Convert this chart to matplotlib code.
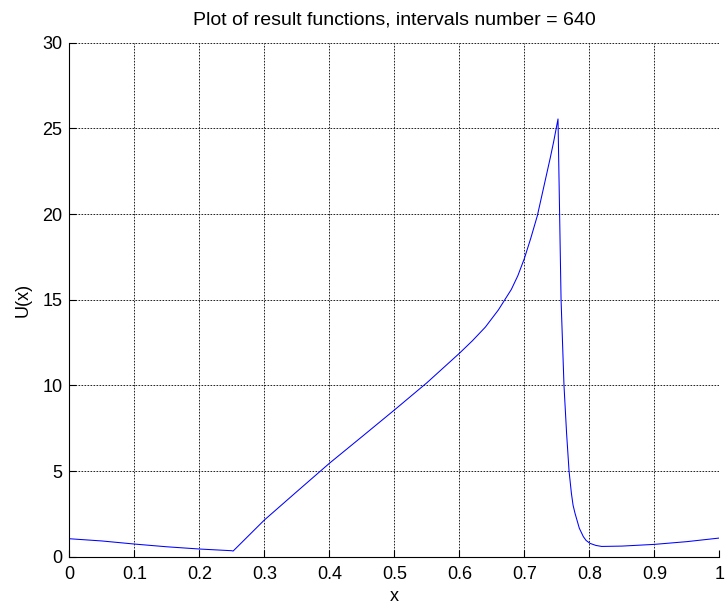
import matplotlib
matplotlib.use("Agg")
import matplotlib.pyplot as plt

# solution U(x) sampled along the interval
x_vals = [0.0, 0.05, 0.1, 0.15, 0.2, 0.25, 0.252, 0.3, 0.35, 0.4, 0.45,
          0.5, 0.55, 0.6, 0.62, 0.64, 0.66, 0.68, 0.69, 0.7, 0.71, 0.72, 0.73,
          0.74, 0.745, 0.7518, 0.7565, 0.761, 0.765, 0.7688, 0.7724, 0.775,
          0.778, 0.7846, 0.7908, 0.795, 0.801, 0.81, 0.819, 0.85, 0.9, 0.95, 1.0]
u_vals = [1.05, 0.92, 0.74, 0.58, 0.45, 0.35, 0.33, 2.14, 3.8, 5.45, 7.0,
          8.56, 10.15, 11.87, 12.6, 13.4, 14.4, 15.6, 16.4, 17.4, 18.6, 19.9, 21.6,
          23.3, 24.2, 25.55, 15.0, 10.0, 7.2, 5.0, 3.7, 3.0,
          2.53, 1.66, 1.17, 0.95, 0.78, 0.66, 0.6, 0.62, 0.72, 0.88, 1.09]

x_ticks = [0, 0.1, 0.2, 0.3, 0.4, 0.5, 0.6, 0.7, 0.8, 0.9, 1]
x_tick_labels = ["0", "0.1", "0.2", "0.3", "0.4", "0.5", "0.6", "0.7", "0.8", "0.9", "1"]
y_ticks = [0, 5, 10, 15, 20, 25, 30]

plt.rcParams["font.family"] = ["Liberation Sans", "DejaVu Sans"]

fig = plt.figure(figsize=(7.25, 6.05), dpi=100)
ax = fig.add_axes([0.0956, 0.0798, 0.8966, 0.8496])

ax.plot(x_vals, u_vals, color=(0, 0, 1), linewidth=0.75)

ax.set_xlim(0, 1)
ax.set_ylim(0, 30)
ax.set_xticks(x_ticks)
ax.set_xticklabels(x_tick_labels)
ax.set_yticks(y_ticks)

ax.grid(True, color="black", linestyle=(0, (2.0, 1.6)), linewidth=0.6)
for side in ("top", "right"):
    ax.spines[side].set_visible(False)
for side in ("left", "bottom"):
    ax.spines[side].set_linewidth(0.8)

ax.tick_params(direction="in", length=5, width=0.8, labelsize=13)
ax.tick_params(axis="x", pad=7)
ax.tick_params(axis="y", pad=5)

ax.set_title("Plot of result functions, intervals number = 640", fontsize=14, pad=13)
ax.set_xlabel("x", fontsize=13, labelpad=3)
ax.set_ylabel("U(x)", fontsize=13, labelpad=8)

fig.savefig("out.png", dpi=100)
